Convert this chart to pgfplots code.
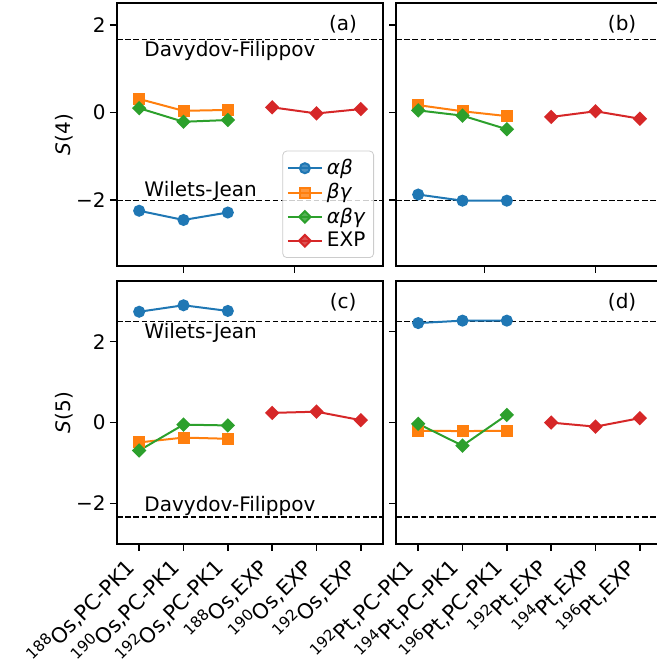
\documentclass[border=0pt]{standalone}
\usepackage{fontspec}
\setmainfont{DejaVu Sans}
\usepackage{pgfplots}
\pgfplotsset{compat=1.18}
\usepgfplotslibrary{groupplots}
\usetikzlibrary{calc}
\definecolor{tabblue}{HTML}{1F77B4}
\definecolor{taborange}{HTML}{FF7F0E}
\definecolor{tabgreen}{HTML}{2CA02C}
\definecolor{tabred}{HTML}{D62728}
\newcommand{\iso}[1]{\smash{\raisebox{0.42em}{\fontsize{7.6}{9}\selectfont #1}}}
\pgfplotsset{
  ab/.style={color=tabblue, line width=1pt, mark=*, mark size=2.5pt, mark options={solid}},
  bg/.style={color=taborange, line width=1pt, mark=square*, mark size=2.5pt, mark options={solid}},
  abg/.style={color=tabgreen, line width=1pt, mark=square*, mark size=2.05pt, mark options={solid, rotate=45}},
  ex/.style={color=tabred, line width=1pt, mark=square*, mark size=2.05pt, mark options={solid, rotate=45}},
  refl/.style={black, line width=0.6pt, dash pattern=on 2.8pt off 1.3pt, forget plot},
}
\begin{document}
\begin{tikzpicture}
\begin{groupplot}[
  group style={group size=2 by 2, horizontal sep=6.5pt, vertical sep=7.5pt},
  scale only axis, width=133pt, height=131.5pt,
  xmin=-0.5, xmax=5.5,
  axis line style={line width=0.8pt},
  every tick/.style={black, line width=0.8pt},
  major tick length=3.5pt, tick align=outside,
  xtick pos=lower, ytick pos=left,
  xticklabel style={xshift=-7pt, yshift=-2pt, rotate=45, anchor=north east, inner sep=1pt,
    font=\fontsize{10.5}{12}\selectfont},
  yticklabel style={inner sep=2pt},
  ylabel shift=-4pt,
  clip=false,
]
% (a)
\nextgroupplot[ymin=-3.5, ymax=2.5, ytick={-2,0,2}, yticklabels={−2,0,2},
  xtick={1,3.5}, xticklabels={},
  ylabel={\textit{S}(4)},
  legend style={at={(1,0)}, anchor=south east, xshift=-4.5pt, yshift=4pt,
    draw=black!20, rounded corners=2pt, fill=white, fill opacity=0.8, text opacity=1,
    inner sep=2pt, row sep=-1pt},
  legend cell align=left]
\addplot[refl] coordinates {(-0.5,1.667) (5.5,1.667)};
\addplot[refl] coordinates {(-0.5,-2) (5.5,-2)};
\addplot[ab] coordinates {(0,-2.24) (1,-2.45) (2,-2.28)};
\addplot[bg] coordinates {(0,0.31) (1,0.04) (2,0.06)};
\addplot[abg] coordinates {(0,0.10) (1,-0.21) (2,-0.17)};
\addplot[ex] coordinates {(3,0.12) (4,-0.02) (5,0.08)};
\legend{\textit{αβ}, \textit{βγ}, \textit{αβγ}, EXP}
\node[anchor=base west, inner sep=0pt] at (axis cs:0.11,1.27) {Davydov-Filippov};
\node[anchor=base west, inner sep=0pt] at (axis cs:0.11,-1.92) {Wilets-Jean};
\node at (rel axis cs:0.85,0.92) {(a)};
% (b)
\nextgroupplot[ymin=-3.5, ymax=2.5, ytick={-2,0,2}, yticklabels={},
  xtick={1.5,4}, xticklabels={}]
\addplot[refl] coordinates {(-0.5,1.667) (5.5,1.667)};
\addplot[refl] coordinates {(-0.5,-2) (5.5,-2)};
\addplot[ab] coordinates {(0,-1.87) (1,-2.01) (2,-2.01)};
\addplot[bg] coordinates {(0,0.17) (1,0.03) (2,-0.08)};
\addplot[abg] coordinates {(0,0.05) (1,-0.07) (2,-0.38)};
\addplot[ex] coordinates {(3,-0.10) (4,0.03) (5,-0.14)};
\node at (rel axis cs:0.85,0.92) {(b)};
% (c)
\nextgroupplot[ymin=-3, ymax=3.5, ytick={-2,0,2}, yticklabels={−2,0,2},
  xtick={0,1,2,3,4,5},
  xticklabels={{\iso{188}Os,PC-PK1}, {\iso{190}Os,PC-PK1}, {\iso{192}Os,PC-PK1},
    {\iso{188}Os,EXP}, {\iso{190}Os,EXP}, {\iso{192}Os,EXP}},
  ylabel={\textit{S}(5)}]
\addplot[refl] coordinates {(-0.5,2.5) (5.5,2.5)};
\addplot[refl] coordinates {(-0.5,-2.333) (5.5,-2.333)};
\addplot[ab] coordinates {(0,2.74) (1,2.90) (2,2.76)};
\addplot[bg] coordinates {(0,-0.49) (1,-0.37) (2,-0.40)};
\addplot[abg] coordinates {(0,-0.69) (1,-0.05) (2,-0.07)};
\addplot[ex] coordinates {(3,0.24) (4,0.27) (5,0.06)};
\node[anchor=base west, inner sep=0pt] at (axis cs:0.11,2.07) {Wilets-Jean};
\node[anchor=base west, inner sep=0pt] at (axis cs:0.11,-2.19) {Davydov-Filippov};
\node at (rel axis cs:0.85,0.92) {(c)};
% (d)
\nextgroupplot[ymin=-3, ymax=3.5, ytick={-2,0,2.25}, yticklabels={},
  xtick={0,1,2,3,4,5},
  xticklabels={{\iso{192}Pt,PC-PK1}, {\iso{194}Pt,PC-PK1}, {\iso{196}Pt,PC-PK1},
    {\iso{192}Pt,EXP}, {\iso{194}Pt,EXP}, {\iso{196}Pt,EXP}}]
\addplot[refl] coordinates {(-0.5,2.5) (5.5,2.5)};
\addplot[refl] coordinates {(-0.5,-2.333) (5.5,-2.333)};
\addplot[ab] coordinates {(0,2.46) (1,2.52) (2,2.52)};
\addplot[bg] coordinates {(0,-0.20) (1,-0.21) (2,-0.20)};
\addplot[abg] coordinates {(0,-0.03) (1,-0.57) (2,0.19)};
\addplot[ex] coordinates {(3,0.0) (4,-0.10) (5,0.11)};
\node at (rel axis cs:0.85,0.92) {(d)};
\end{groupplot}
\pgfresetboundingbox
\path[use as bounding box] ($(group c1r1.north west)+(-58.5pt,1.5pt)$) rectangle ++(328.5pt,-334pt);
\end{tikzpicture}
\end{document}
